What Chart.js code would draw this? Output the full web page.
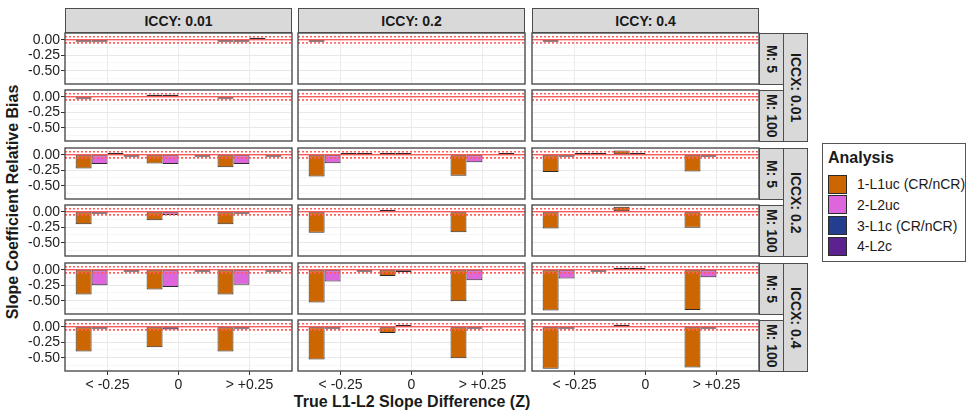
<!DOCTYPE html>
<html>
<head>
<meta charset="utf-8">
<title>Slope Coefficient Relative Bias</title>
<script src="https://cdn.jsdelivr.net/npm/chart.js@4.4.1/dist/chart.umd.min.js"></script>
<style>
  html, body { margin: 0; padding: 0; background: #fff; }
  body {
    width: 968px; height: 415px; position: relative; overflow: hidden;
    font-family: "Liberation Sans", Arial, sans-serif; color: #1a1a1a;
  }
  canvas { position: absolute; }
  .strip {
    position: absolute; box-sizing: border-box;
    background: #d9d9d9; border: 1px solid #4d4d4d;
    display: flex; align-items: center; justify-content: center;
    font-weight: bold; font-size: 14px; color: #1a1a1a; white-space: nowrap;
  }
  .strip.vert span { writing-mode: vertical-rl; }
  .title {
    position: absolute; font-weight: bold; font-size: 16px; white-space: nowrap;
    transform: translate(-50%, -50%);
  }
  #legend {
    position: absolute; left: 822px; top: 143px; width: 144px; height: 119px;
    box-sizing: border-box; border: 1.5px solid #555; background: #fff;
  }
  #legend .ltitle { position: absolute; left: 5px; top: 5px; font-weight: bold; font-size: 16px; }
  #legend .key {
    position: absolute; left: 5px; width: 19px; height: 19px; box-sizing: border-box;
    border: 1px solid #2b2b2b;
  }
  #legend .lab { position: absolute; left: 34px; font-size: 14px; line-height: 16px; white-space: nowrap; }
</style>
</head>
<body>
<div class="title" id="ytitle" style="left:13px; top:202px; transform: translate(-50%, -50%) rotate(-90deg);">Slope Coefficient Relative Bias</div>
<div class="title" id="xtitle" style="left:412px; top:402px;">True L1-L2 Slope Difference (Z)</div>
<div id="legend"></div>
<script>
(function () {
  "use strict";

  const columnLabels = ["ICCY: 0.01", "ICCY: 0.2", "ICCY: 0.4"];
  const iccxLabels = ["ICCX: 0.01", "ICCX: 0.2", "ICCX: 0.4"];
  const mLabels = ["M: 5", "M: 100"];
  const categories = ["< -0.25", "0", "> +0.25"];
  const analyses = ["1-L1uc (CR/nCR)", "2-L2uc", "3-L1c (CR/nCR)", "4-L2c"];
  const yTicks = [0, -0.25, -0.5];
  const yMinorTicks = [-0.125, -0.375, -0.625];
  const biasLimits = [-0.05, 0.05];

  // rows: ICCX 0.01 M5, ICCX 0.01 M100, ICCX 0.2 M5, ICCX 0.2 M100, ICCX 0.4 M5, ICCX 0.4 M100
  // each row: [ICCY 0.01, ICCY 0.2, ICCY 0.4], each a triple over the Z categories
  const l1uc = [
    [[-0.01, null, -0.01], [-0.01, null, null], [-0.01, null, null]],
    [[-0.01, 0.01, -0.01], [null, null, null], [null, null, null]],
    [[-0.22, -0.14, -0.2], [-0.35, 0.01, -0.34], [-0.28, 0.07, -0.27]],
    [[-0.2, -0.135, -0.2], [-0.34, 0.02, -0.33], [-0.27, 0.08, -0.26]],
    [[-0.4, -0.32, -0.4], [-0.53, -0.1, -0.51], [-0.66, 0.01, -0.65]],
    [[-0.4, -0.33, -0.4], [-0.53, -0.1, -0.51], [-0.68, 0.02, -0.66]]
  ];
  const l2uc = [
    [[-0.01, null, -0.01], [null, null, null], [null, null, null]],
    [[null, 0.01, null], [null, null, null], [null, null, null]],
    [[-0.15, -0.15, -0.15], [-0.135, 0.01, -0.12], [-0.03, 0.005, -0.03]],
    [[-0.01, -0.05, -0.01], [null, null, null], [null, null, null]],
    [[-0.25, -0.28, -0.24], [-0.19, -0.04, -0.17], [-0.14, 0.01, -0.12]],
    [[-0.02, -0.045, -0.02], [-0.005, 0.005, -0.005], [-0.005, null, -0.005]]
  ];
  const l1c = [
    [[null, null, 0.01], [null, null, null], [null, null, null]],
    [[null, null, null], [null, null, null], [null, null, null]],
    [[0.005, null, null], [0.005, null, null], [0.005, null, null]],
    [[null, null, null], [null, null, null], [null, null, null]],
    [[null, null, null], [null, null, null], [null, null, null]],
    [[null, null, null], [null, null, null], [null, null, null]]
  ];
  const l2c = [
    [[null, null, null], [null, null, null], [null, null, null]],
    [[null, null, null], [null, null, null], [null, null, null]],
    [[-0.01, -0.01, -0.01], [0.005, null, 0.005], [0.005, null, null]],
    [[null, null, null], [null, null, null], [null, null, null]],
    [[-0.01, -0.01, -0.01], [-0.01, null, null], [-0.005, null, null]],
    [[null, null, null], [null, null, null], [null, null, null]]
  ];
  const seriesValues = [l1uc, l2uc, l1c, l2c];

  const analysisColors = ["#cc6600", "#dd66dd", "#213f8e", "#5d2190"];
  const FONT = "'Liberation Sans', Arial, sans-serif";

  // layout in page pixels
  const colLeft = [65, 298, 532];
  const rowTop = [33, 90, 148, 205, 263, 320];
  const panelW = 227;
  const panelH = 51;

  function addStrip(text, left, top, width, height, vertical) {
    const d = document.createElement("div");
    d.className = "strip" + (vertical ? " vert" : "");
    d.style.left = left + "px";
    d.style.top = top + "px";
    d.style.width = width + "px";
    d.style.height = height + "px";
    const s = document.createElement("span");
    s.textContent = text;
    d.appendChild(s);
    document.body.appendChild(d);
  }

  function buildStrips() {
    columnLabels.forEach(function (lab, c) {
      addStrip(lab, colLeft[c], 8, panelW, 25, false);
    });
    const stripX = colLeft[2] + panelW;
    rowTop.forEach(function (top, r) {
      addStrip(mLabels[r % 2], stripX, top, 25, panelH + 1, true);
    });
    iccxLabels.forEach(function (lab, k) {
      const top = rowTop[2 * k];
      const bottom = rowTop[2 * k + 1] + panelH + 1;
      addStrip(lab, stripX + 24, top, 25, bottom - top, true);
    });
  }

  function buildLegend() {
    const box = document.getElementById("legend");
    const t = document.createElement("div");
    t.className = "ltitle";
    t.textContent = "Analysis";
    box.appendChild(t);
    analyses.forEach(function (name, k) {
      const cy = 40 + k * 20.8;
      const key = document.createElement("div");
      key.className = "key";
      key.style.top = (cy - 9.5) + "px";
      key.style.background = analysisColors[k];
      box.appendChild(key);
      const lab = document.createElement("div");
      lab.className = "lab";
      lab.style.top = (cy - 8) + "px";
      lab.textContent = name;
      box.appendChild(lab);
    });
  }

  const panelDecor = {
    id: "panelDecor",
    afterDatasetsDraw: function (chart) {
      const ctx = chart.ctx;
      const a = chart.chartArea;
      const y = chart.scales.y;
      ctx.save();
      ctx.beginPath();
      ctx.rect(a.left, a.top, a.right - a.left, a.bottom - a.top);
      ctx.clip();
      const y0 = y.getPixelForValue(0);
      ctx.strokeStyle = "#ff2020";
      ctx.lineWidth = 1;
      ctx.beginPath();
      ctx.moveTo(a.left, y0);
      ctx.lineTo(a.right, y0);
      ctx.stroke();
      ctx.setLineDash([2, 2]);
      ctx.strokeStyle = "#ff5c5c";
      ctx.lineWidth = 1.6;
      biasLimits.forEach(function (v) {
        const py = y.getPixelForValue(v);
        ctx.beginPath();
        ctx.moveTo(a.left, py);
        ctx.lineTo(a.right, py);
        ctx.stroke();
      });
      ctx.restore();
    },
    afterDraw: function (chart) {
      const ctx = chart.ctx;
      const a = chart.chartArea;
      ctx.save();
      ctx.strokeStyle = "#4d4d4d";
      ctx.lineWidth = 1.4;
      ctx.strokeRect(a.left, a.top, a.right - a.left, a.bottom - a.top);
      ctx.restore();
    }
  };

  function isMajor(v) {
    return yTicks.some(function (t) { return Math.abs(t - v) < 1e-9; });
  }

  function makePanel(r, c) {
    const isLeft = c === 0;
    const isBottom = r === rowTop.length - 1;
    const padL = isLeft ? 65 : 2;
    const padB = isBottom ? 30 : 2;
    const padT = 4;
    const padR = 2;

    const canvas = document.createElement("canvas");
    canvas.width = padL + panelW + padR;
    canvas.height = padT + panelH + padB;
    canvas.style.left = (colLeft[c] - padL) + "px";
    canvas.style.top = (rowTop[r] - padT) + "px";
    canvas.style.width = canvas.width + "px";
    canvas.style.height = canvas.height + "px";
    document.body.appendChild(canvas);

    const datasets = analyses.map(function (name, k) {
      return {
        label: name,
        data: seriesValues[k][r][c].map(function (v, i) {
          return { x: i, y: v };
        }),
        backgroundColor: analysisColors[k],
        borderColor: "#2b2b2b",
        borderWidth: 1,
        borderSkipped: false,
        minBarLength: 2,
        categoryPercentage: 0.9,
        barPercentage: 1
      };
    });

    return new Chart(canvas, {
      type: "bar",
      data: { datasets: datasets },
      options: {
        responsive: false,
        animation: false,
        devicePixelRatio: 1,
        layout: { padding: { top: padT, right: padR, left: 0, bottom: 0 } },
        plugins: { legend: { display: false }, tooltip: { enabled: false } },
        scales: {
          x: {
            type: "linear",
            min: -0.6,
            max: 2.6,
            bounds: "data",
            offset: false,
            afterBuildTicks: function (s) {
              s.ticks = categories.map(function (_, i) { return { value: i }; });
            },
            afterFit: function (s) {
              s.height = padB;
              s.paddingLeft = 0;
              s.paddingRight = 0;
            },
            ticks: {
              display: isBottom,
              autoSkip: false,
              maxRotation: 0,
              padding: 2,
              color: "#222",
              font: { family: FONT, size: 14 },
              callback: function (v) { return categories[v]; }
            },
            grid: {
              offset: false,
              color: "#ebebeb",
              lineWidth: 1,
              drawTicks: isBottom,
              tickLength: 4,
              tickColor: "#333"
            },
            border: { display: false }
          },
          y: {
            type: "linear",
            min: -0.715,
            max: 0.11,
            bounds: "data",
            afterBuildTicks: function (s) {
              s.ticks = yMinorTicks.concat(yTicks)
                .sort(function (a, b) { return a - b; })
                .map(function (v) { return { value: v }; });
            },
            afterFit: function (s) {
              s.width = padL;
              s.paddingTop = 0;
              s.paddingBottom = 0;
            },
            ticks: {
              display: isLeft,
              autoSkip: false,
              padding: 1,
              color: "#222",
              font: { family: FONT, size: 14 },
              callback: function (v) { return isMajor(v) ? v.toFixed(2) : ""; }
            },
            grid: {
              color: function (ctx) {
                return ctx.tick && isMajor(ctx.tick.value) ? "#e8e8e8" : "#f2f2f2";
              },
              lineWidth: function (ctx) {
                return ctx.tick && isMajor(ctx.tick.value) ? 1 : 0.7;
              },
              drawTicks: isLeft,
              tickLength: 4,
              tickColor: function (ctx) {
                return ctx.tick && isMajor(ctx.tick.value) ? "#333" : "rgba(0,0,0,0)";
              }
            },
            border: { display: false }
          }
        }
      },
      plugins: [panelDecor]
    });
  }

  function init() {
    buildStrips();
    buildLegend();
    for (let r = 0; r < rowTop.length; r++) {
      for (let c = 0; c < colLeft.length; c++) {
        makePanel(r, c);
      }
    }
  }

  if (document.readyState === "loading") {
    document.addEventListener("DOMContentLoaded", init);
  } else {
    init();
  }
})();
</script>
</body>
</html>
